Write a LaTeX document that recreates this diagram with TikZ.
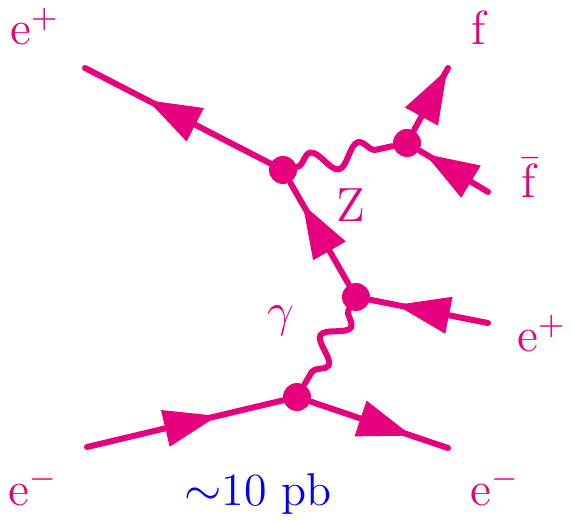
\documentclass[tikz,border=0pt]{standalone}
\usepackage{tikz}
\usetikzlibrary{arrows.meta, decorations.markings, decorations.pathmorphing}
\definecolor{mymagenta}{RGB}{230,0,126}
\definecolor{myblue}{RGB}{0,0,255}
\tikzset{
  fermion/.style={color=mymagenta, line width=1.5pt, line cap=round,
    postaction={decorate}, decoration={markings,
      mark=at position 0.5 with {\arrow[xshift=8.5pt]{Triangle[length=13.5pt,width=9pt]}}}},
  photon/.style={color=mymagenta, line width=1.5pt, line cap=round,
    decorate, decoration={snake, amplitude=2.8pt, segment length=#1}},
  photon/.default=12.3pt,
  vertex/.style={circle, fill=mymagenta, inner sep=0pt, minimum size=7pt},
  ptext/.style={text=mymagenta, anchor=base},
  xtext/.style={text=myblue, anchor=base}
}

\begin{document}
\begin{tikzpicture}[x=0.25pt, y=-0.25pt, font=\fontsize{11.5}{14}\selectfont]
  \useasboundingbox (0,0) rectangle (573,520);

  % Vertices
  \node[vertex] (A) at (283,170) {};
  \node[vertex] (B) at (407,143) {};
  \node[vertex] (C) at (356,297) {};
  \node[vertex] (D) at (297,397) {};

  % External ends
  \coordinate (epTL) at (85,68);
  \coordinate (fout) at (448,68);
  \coordinate (fbout) at (488,192);
  \coordinate (epR) at (488,323);
  \coordinate (emL) at (87,447);
  \coordinate (emR) at (448,448);

  % Fermion lines
  \draw[fermion] (A) -- (epTL);
  \draw[fermion] (B) -- (fout);
  \draw[fermion] (fbout) -- (B);
  \draw[fermion] (C) -- (A);
  \draw[fermion] (epR) -- (C);
  \draw[fermion] (emL) -- (D);
  \draw[fermion] (D) -- (emR);

  % Boson lines
  \draw[photon] (A) -- (B);
  \draw[photon=11.1pt] (C) -- (D);

  % Labels
  \node[ptext] (lepTL) at (35,45) {$\mathrm{e}^+$};
  \node[ptext] (lf) at (480,45) {$\mathrm{f}$};
  \node[ptext] (lfb) at (530,198) {$\bar{\mathrm{f}}$};
  \node[ptext] (lZ) at (351,222) {$\mathrm{Z}$};
  \node[ptext] (lgam) at (281,326) {$\gamma$};
  \node[ptext] (lepR) at (542,352) {$\mathrm{e}^+$};
  \node[ptext] (lemL) at (33,505) {$\mathrm{e}^-$};
  \node[ptext] (lemR) at (495,505) {$\mathrm{e}^-$};
  \node[xtext] (lxs) at (258,505) {$\sim$10 pb};
\end{tikzpicture}
\end{document}
